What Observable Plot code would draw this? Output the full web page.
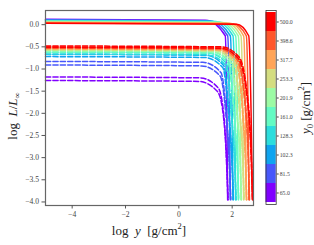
<!DOCTYPE html>
<html>
<head>
<meta charset="utf-8">
<script src="https://cdn.jsdelivr.net/npm/d3@7"></script>
<script src="https://cdn.jsdelivr.net/npm/@observablehq/plot@0.6"></script>
<style>
  html, body { margin: 0; padding: 0; background: #fff; }
  #wrap { position: relative; width: 314px; height: 245px; overflow: hidden; font-family: 'Liberation Serif', serif; color: #222; }
  #wrap svg { position: absolute; top: 0; background: transparent; }
  .lab { position: absolute; white-space: nowrap; font-size: 13px; line-height: 1; }
  .lab i { font-style: italic; }
  .lab sub, .lab sup { font-size: 8.5px; line-height: 0; }
</style>
</head>
<body>
<div id="wrap"></div>
<script>
// ---- data ----
const y0Values = [65.0, 81.5, 102.3, 128.3, 161.0, 201.9, 253.3, 317.7, 398.6, 500.0];
const palette = ["#8000ff", "#4757fb", "#0ea4f0", "#2bdddd", "#63fbc3", "#9cfba4", "#d4dd80", "#ffa457", "#ff572c", "#ff0000"];

const xTicks = [-4, -2, 0, 2];
const yTicks = [0.0, -0.5, -1.0, -1.5, -2.0, -2.5, -3.0, -3.5, -4.0];

// solid lines (one per y0)
const solidLevel = [0.12, 0.11, 0.10, 0.09, 0.08, 0.07, 0.06, 0.05, 0.04, 0.03];
const solidBendX = [1.00, 1.13, 1.26, 1.39, 1.52, 1.65, 1.78, 1.91, 2.04, 2.17];
const solidKneeX = [1.74, 1.83, 1.93, 2.03, 2.13, 2.23, 2.33, 2.43, 2.53, 2.62];
const solidMidX  = [1.80, 1.90, 2.00, 2.10, 2.20, 2.30, 2.40, 2.50, 2.60, 2.71];
const solidEndX  = [1.83, 1.93, 2.03, 2.13, 2.23, 2.33, 2.43, 2.53, 2.63, 2.76];

// dashed lines (two per y0)
const dashBin   = [0,0, 1,1, 2,2, 3,3, 4,4, 5,5, 6,6, 7,7, 8,8, 9,9];
const dashLevel = [-1.26,-1.18, -0.91,-0.83, -0.72,-0.67, -0.66,-0.62, -0.62,-0.59, -0.59,-0.56, -0.57,-0.54, -0.55,-0.52, -0.53,-0.50, -0.51,-0.48];
const dashBendX = [0.75,0.80, 0.85,0.90, 0.95,1.00, 1.05,1.10, 1.15,1.20, 1.25,1.30, 1.35,1.40, 1.45,1.50, 1.50,1.55, 1.55,1.60];
const dashX1    = [1.45,1.48, 1.55,1.58, 1.65,1.68, 1.75,1.78, 1.85,1.88, 1.95,1.98, 2.04,2.07, 2.12,2.15, 2.18,2.20, 2.23,2.26];
const dashX2    = [1.66,1.68, 1.76,1.78, 1.86,1.88, 1.96,1.98, 2.06,2.08, 2.17,2.19, 2.28,2.30, 2.39,2.41, 2.51,2.53, 2.62,2.64];
const dashX3    = [1.78,1.79, 1.88,1.89, 1.98,1.99, 2.08,2.09, 2.18,2.19, 2.29,2.30, 2.39,2.40, 2.49,2.50, 2.60,2.61, 2.71,2.72];
const dashEndX  = [1.84,1.85, 1.94,1.95, 2.04,2.05, 2.14,2.15, 2.24,2.25, 2.34,2.35, 2.44,2.45, 2.54,2.55, 2.64,2.65, 2.76,2.77];

// ---- build tables ----
function solidRows(i) {
  const y0 = y0Values[i];
  return [
    {x: -5, y: solidLevel[i], y0},
    {x: solidBendX[i], y: solidLevel[i] - 0.02, y0},
    {x: solidKneeX[i], y: -0.25, y0},
    {x: solidMidX[i], y: -2.0, y0},
    {x: solidEndX[i], y: -3.95, y0}
  ];
}
function dashRows(k) {
  const y0 = y0Values[dashBin[k]];
  return [
    {x: -5, y: dashLevel[k], y0},
    {x: dashBendX[k], y: dashLevel[k] - 0.02, y0},
    {x: dashX1[k], y: dashLevel[k] - 0.25, y0},
    {x: dashX2[k], y: -2.0, y0},
    {x: dashX3[k], y: -3.0, y0},
    {x: dashEndX[k], y: -3.95, y0}
  ];
}

const fmtMinus = s => String(s).replace("-", "\u2212");
const colorScale = {type: "ordinal", domain: y0Values, range: palette};

const lineMarks = [];
y0Values.forEach((v, i) => {
  lineMarks.push(Plot.line(solidRows(i), {x: "x", y: "y", stroke: "y0", strokeWidth: 1.5, curve: "monotone-x"}));
  dashBin.forEach((b, k) => {
    if (b === i) lineMarks.push(Plot.line(dashRows(k), {x: "x", y: "y", stroke: "y0", strokeWidth: 1.5, strokeDasharray: "5.2,2.2", curve: "monotone-x"}));
  });
});

const main = Plot.plot({
  width: 262, height: 245,
  marginLeft: 45, marginRight: 9, marginTop: 10, marginBottom: 40,
  x: {domain: [-5, 2.8]},
  y: {domain: [-4.08, 0.32]},
  color: colorScale,
  style: {fontFamily: "'Liberation Serif', serif", fontSize: "7.6px", color: "#444", background: "transparent"},
  marks: [
    ...lineMarks,
    Plot.frame({stroke: "#666", strokeWidth: 1.2}),
    Plot.axisX({ticks: xTicks, tickSize: 3.5, tickPadding: 3, tickFormat: d => fmtMinus(d), label: null, stroke: "#555"}),
    Plot.axisY({ticks: yTicks, tickSize: 3.5, tickPadding: 3, tickFormat: d => fmtMinus(d.toFixed(1)), label: null, stroke: "#555"})
  ]
});
main.style.left = "0px";

const cbar = Plot.plot({
  width: 59, height: 245,
  marginLeft: 10.5, marginRight: 38.3, marginTop: 10, marginBottom: 41,
  x: {domain: [0, 1], axis: null},
  y: {type: "band", domain: [...y0Values].reverse(), padding: 0},
  color: colorScale,
  style: {fontFamily: "'Liberation Serif', serif", fontSize: "5.8px", color: "#444", background: "transparent"},
  marks: [
    Plot.barX(y0Values, {x1: 0, x2: 1, y: d => d, fill: d => d, inset: 0}),
    Plot.frame({stroke: "#333", strokeWidth: 0.8}),
    Plot.axisY({anchor: "right", tickSize: 2, tickPadding: 1.5, tickFormat: d => d.toFixed(1), label: null})
  ]
});
cbar.style.left = "255px";

const wrap = document.getElementById("wrap");
wrap.appendChild(main);
wrap.appendChild(cbar);

function addLabel(html, cx, cy, rotate) {
  const d = document.createElement("div");
  d.className = "lab";
  d.innerHTML = html;
  d.style.left = cx + "px";
  d.style.top = cy + "px";
  d.style.transform = "translate(-50%,-50%)" + (rotate ? " rotate(-90deg)" : "");
  wrap.appendChild(d);
}
addLabel("log&nbsp;&nbsp;<i>y</i>&nbsp;&nbsp;[g/cm<sup>2</sup>]", 149, 230, false);
addLabel("log&nbsp;&nbsp;<i>L</i>/<i>L</i><sub>∞</sub>", 12, 116, true);
addLabel("<i>y</i><sub>0</sub>&nbsp;[g/cm<sup>2</sup>]", 305, 108, true);
</script>
</body>
</html>
